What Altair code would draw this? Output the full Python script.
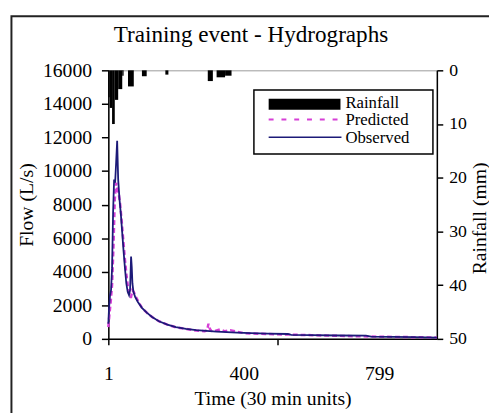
import altair as alt
import pandas as pd

# ---------------- text ----------------
title_text = "Training event - Hydrographs"
x_title = "Time (30 min units)"
y_left_title = "Flow (L/s)"
y_right_title = "Rainfall (mm)"
legend_labels = ["Rainfall", "Predicted", "Observed"]

# ---------------- ticks ----------------
x_tick_values = [1, 400, 500, 799]
x_labelled = [1, 400, 799]
flow_ticks = [0, 2000, 4000, 6000, 8000, 10000, 12000, 14000, 16000]
rain_ticks = [0, 10, 20, 30, 40, 50]

# ---------------- data ----------------
obs_t = [1, 3, 6, 9, 12, 15, 18, 21, 24, 27, 30, 34, 38, 42, 46, 50, 54, 58, 62, 65,
         68, 70, 72, 75, 80, 88, 100, 115, 130, 150, 175, 200, 230, 260, 290, 320,
         350, 380, 420, 470, 530, 540, 600, 680, 760, 775, 840, 900, 969]
obs_flow = [900, 1800, 2600, 2900, 4200, 7500, 9500, 9300, 10500, 11800, 9500, 8300,
            7400, 6300, 5200, 4200, 3300, 2800, 2600, 2900, 4900, 4300, 3300, 2800,
            2500, 2200, 1850, 1550, 1300, 1050, 850, 700, 600, 520, 470, 430, 400,
            370, 340, 310, 290, 240, 220, 200, 190, 130, 115, 100, 80]

pred_t = [1, 4, 8, 12, 16, 20, 24, 28, 32, 36, 40, 45, 50, 55, 60, 64, 68, 72, 76,
          82, 90, 100, 115, 130, 150, 175, 200, 230, 260, 285, 292, 296, 300, 304,
          310, 330, 345, 360, 400, 450, 520, 600, 700, 800, 900, 969]
pred_flow = [700, 1400, 2200, 3200, 5400, 8300, 9300, 8900, 8600, 8000, 7100, 5900,
             4700, 3700, 2900, 2500, 2500, 2900, 2800, 2500, 2200, 1850, 1550, 1300,
             1050, 850, 690, 590, 500, 460, 520, 900, 600, 480, 440, 560, 450, 520,
             340, 300, 260, 220, 170, 130, 100, 80]

rain_start = [1, 5, 12, 20, 30, 42, 59, 100, 169, 294, 320, 345]
rain_end = [5, 12, 20, 30, 42, 46, 76, 114, 178, 309, 345, 364]
rain_mm = [5, 7, 10, 5.5, 3.5, 1, 3, 1.1, 0.8, 2, 1.3, 1.0]

# ---------------- tables ----------------
obs_df = pd.DataFrame({"t": obs_t, "flow": obs_flow})
pred_df = pd.DataFrame({"t": pred_t, "flow": pred_flow})
rain_df = pd.DataFrame({"t0": rain_start, "t1": rain_end, "mm": rain_mm})
one = pd.DataFrame({"k": [0]})

FONT = "Liberation Serif"
NAVY = "#1c1a78"
PINK = "#d63fd6"

x_scale = alt.Scale(domain=[1, 969], nice=False, zero=False)
x_axis = alt.Axis(
    values=x_tick_values,
    labelExpr="datum.value == 500 ? '' : datum.label",
    tickOpacity={"condition": {"test": "datum.value == 1 || datum.value == 500", "value": 1}, "value": 0},
    title=x_title,
    tickSize=6,
    labelPadding=19,
    labelFontSize=20,
    labelFlush=False,
    titlePadding=6,
    grid=False,
)

flow_scale = alt.Scale(domain=[0, 16000], nice=False)
flow_axis = alt.Axis(
    values=flow_ticks, orient="left", title=y_left_title, format="d",
    tickSize=7, labelPadding=10, labelFontSize=20, titlePadding=6, grid=False,
)
rain_scale = alt.Scale(domain=[0, 50], reverse=True, nice=False)
rain_axis = alt.Axis(
    values=rain_ticks, orient="right", title=y_right_title,
    tickSize=6, labelPadding=6, labelFontSize=18, titleAngle=270,
    titleBaseline="top", titlePadding=3, titleY=150, grid=False,
)

# ---------------- marks ----------------
frame = alt.Chart(one).mark_rect(fillOpacity=0, stroke="#222", strokeWidth=2).encode(
    x=alt.value(-98.5), x2=alt.value(700), y=alt.value(-55), y2=alt.value(700)
)

title = alt.Chart(one).mark_text(
    font=FONT, fontSize=23.5, align="center", baseline="alphabetic", color="black"
).encode(x=alt.value(145), y=alt.value(-29), text=alt.value(title_text))

rain = alt.Chart(rain_df).mark_rect(color="black").encode(
    x=alt.X("t0:Q", scale=x_scale, axis=x_axis),
    x2="t1:Q",
    y=alt.Y("mm:Q", scale=rain_scale, axis=rain_axis),
    y2=alt.datum(0),
)

pred = alt.Chart(pred_df).mark_line(color=PINK, strokeWidth=2.5, strokeDash=[5, 3]).encode(
    x=alt.X("t:Q", scale=x_scale, axis=x_axis),
    y=alt.Y("flow:Q", scale=flow_scale, axis=flow_axis),
)
obs = alt.Chart(obs_df).mark_line(color=NAVY, strokeWidth=1.8).encode(
    x=alt.X("t:Q", scale=x_scale, axis=x_axis),
    y=alt.Y("flow:Q", scale=flow_scale, axis=flow_axis),
)
flows = alt.layer(pred, obs)

leg_box = alt.Chart(one).mark_rect(fill="white", stroke="black", strokeWidth=1.5).encode(
    x=alt.value(148), x2=alt.value(330), y=alt.value(20), y2=alt.value(85)
)
leg_rain = alt.Chart(one).mark_rect(fill="black").encode(
    x=alt.value(163), x2=alt.value(236), y=alt.value(29), y2=alt.value(40)
)
leg_pred = alt.Chart(one).mark_rule(color=PINK, strokeWidth=2, strokeDash=[5, 8]).encode(
    x=alt.value(163), x2=alt.value(237), y=alt.value(50)
)
leg_obs = alt.Chart(one).mark_rule(color=NAVY, strokeWidth=1.5).encode(
    x=alt.value(163), x2=alt.value(237), y=alt.value(68)
)
leg_texts = []
for lbl, yy in zip(legend_labels, [33, 51, 69]):
    leg_texts.append(
        alt.Chart(one).mark_text(
            font=FONT, fontSize=17, align="left", baseline="middle", color="black"
        ).encode(x=alt.value(241), y=alt.value(yy), text=alt.value(lbl))
    )

chart = alt.layer(
    frame, title, rain, flows, leg_box, leg_rain, leg_pred, leg_obs, *leg_texts
).resolve_scale(y="independent").properties(
    width=334,
    height=273,
    autosize=alt.AutoSizeParams(type="none"),
    padding={"left": 102, "top": 60, "right": 53, "bottom": 72},
    background="white",
).configure_view(
    stroke="#999", strokeWidth=1
).configure_axis(
    domainColor="black", domainWidth=1.5, tickColor="black", tickWidth=1.5,
    labelColor="black", titleColor="black", labelFont=FONT, titleFont=FONT,
    titleFontSize=20, titleFontWeight="normal",
)

chart.save("out.html", embed_options={"renderer": "svg", "actions": False})
